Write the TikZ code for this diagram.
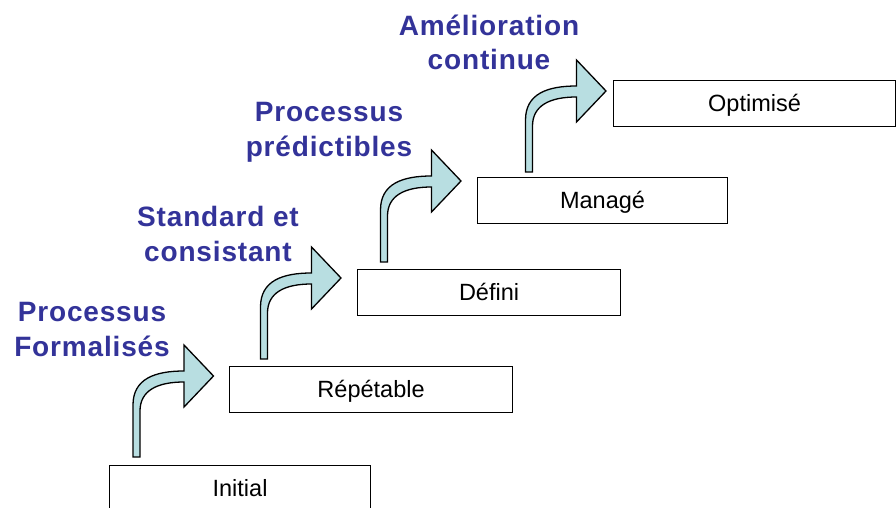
\documentclass[tikz,border=0pt]{standalone}
\usepackage{fontspec}
\setmainfont{Liberation Sans}
\newfontfamily\lblfont[LetterSpace=3]{Liberation Sans}
\usepackage{tikz}
\usetikzlibrary{positioning}

\definecolor{stepblue}{RGB}{51,51,153}
\definecolor{stepcyan}{RGB}{184,222,225}

\tikzset{
    levelbox/.style={draw=black, line width=1.1pt, fill=white, anchor=north west,
        minimum height=46pt, inner sep=0pt,
        font=\fontsize{23.5}{26}\selectfont, text height=16.8pt, text depth=0pt},
    steplabel/.style={text=stepblue, align=center, anchor=base, inner sep=0pt,
        font=\lblfont\bfseries\fontsize{28}{34.5}\selectfont},
    stairarrow/.style={draw=black, line width=1.3pt, fill=stepcyan, line join=miter}
}

\begin{document}
\begin{tikzpicture}[x=1pt, y=-1pt]
    \useasboundingbox (0,0) rectangle (896,508);

    % levels of the stair
    \foreach \name/\x/\y/\w/\txt in {
        initial/109/465/261/Initial,
        repetable/229/366/283/Répétable,
        defini/357/269/263/Défini,
        manage/477/177/250/Managé,
        optimise/613/80/282/Optimisé}
    {
        \node[levelbox, minimum width=\w pt] (\name) at (\x,\y) {\txt};
    }

    % curved arrows between levels
    \foreach \ax/\ay in {136.5/457, 264/359, 384/262, 529/172}
    {
        \draw[stairarrow, shift={(\ax,\ay)}]
            (-3.5,0) -- (-3.5,-52)
            .. controls (-3.5,-78) and (18,-86) .. (47.5,-86)
            -- (47.5,-112) -- (77,-81) -- (47.5,-50) -- (47.5,-75)
            .. controls (20,-75) and (3.5,-66) .. (3.5,-46)
            -- (3.5,0) -- cycle;
    }

    % labels (anchored on the baseline of the second line)
    \node[steplabel] (lblformal) at (92,356.2) {Processus\\Formalisés};
    \node[steplabel] (lblstandard) at (218,261.2) {Standard et\\consistant};
    \node[steplabel] (lblpredict) at (329,156.2) {Processus\\prédictibles};
    \node[steplabel] (lblamelior) at (489,69.8) {Amélioration\\continue};
\end{tikzpicture}
\end{document}
